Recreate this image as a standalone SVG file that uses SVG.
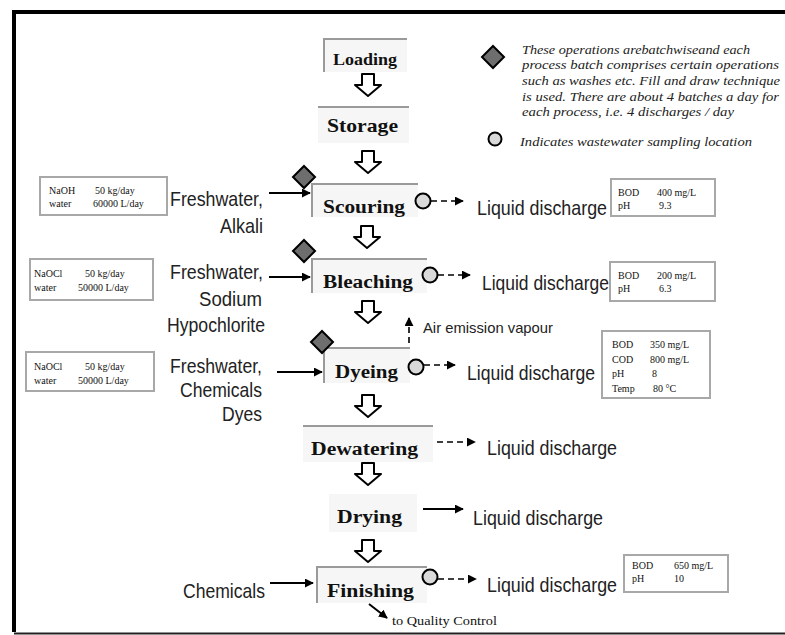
<svg xmlns="http://www.w3.org/2000/svg" xmlns:xlink="http://www.w3.org/1999/xlink" width="785" height="635" viewBox="0 0 785 635">
<style>
.proc{fill:#f6f6f6}
.edge{stroke:#9a9a9a;stroke-width:2;fill:none}
.pt{font-family:"Liberation Serif",serif;font-weight:bold;fill:#111}
.lab{font-family:"Liberation Sans",Arial,sans-serif;font-size:18px;fill:#222}
.sm{font-family:"Liberation Serif",serif;font-size:10px;fill:#111}
.leg{font-family:"Liberation Serif",serif;font-style:italic;font-size:13px;fill:#222}
.ibox{fill:#fff;stroke:#a8a8a8;stroke-width:2}
.dia{fill:#6e6e6e;stroke:#000;stroke-width:2}
.smp{fill:#d9d9d9;stroke:#000;stroke-width:2}
.solid{stroke:#000;stroke-width:2;fill:none}
.dash{stroke:#000;stroke-width:1.6;fill:none;stroke-dasharray:6,4}
.harr{fill:#fff;stroke:#000;stroke-width:2;stroke-linejoin:round}
</style>
<defs>
<marker id="ah" viewBox="0 0 10 10" refX="9" refY="5" markerWidth="9" markerHeight="9" markerUnits="userSpaceOnUse" orient="auto">
<path d="M0,0 L10,5 L0,10 z" fill="#000"/>
</marker>
<path id="darr" class="harr" d="M-6,0 H6 V11 H13 L0,22 L-13,11 H-6 Z"/>
<path id="diam" class="dia" d="M0,-11 L11,0 L0,11 L-11,0 Z"/>
</defs>

<!-- frame -->
<path d="M14,632 V12 H785" fill="none" stroke="#000" stroke-width="4"/>
<line x1="14" y1="633.5" x2="785" y2="633.5" stroke="#222" stroke-width="2"/>

<!-- legend -->
<g id="legend">
<use href="#diam" x="493" y="57"/>
<text class="leg" x="522" y="54" textLength="228" lengthAdjust="spacingAndGlyphs">These operations arebatchwiseand each</text>
<text class="leg" x="522" y="69" textLength="257" lengthAdjust="spacingAndGlyphs">process batch comprises certain operations</text>
<text class="leg" x="522" y="85" textLength="258" lengthAdjust="spacingAndGlyphs">such as washes etc. Fill and draw technique</text>
<text class="leg" x="522" y="101" textLength="257" lengthAdjust="spacingAndGlyphs">is used. There are about 4 batches a day for</text>
<text class="leg" x="522" y="116" textLength="212" lengthAdjust="spacingAndGlyphs">each process, i.e. 4 discharges / day</text>
<circle class="smp" cx="495" cy="139" r="6.5"/>
<text class="leg" x="520" y="146" textLength="232" lengthAdjust="spacingAndGlyphs">Indicates wastewater sampling location</text>
</g>

<!-- process nodes -->
<g id="loading">
<rect class="proc" x="324" y="39" width="83" height="33"/>
<path class="edge" d="M324,72 V39 H407"/>
<text class="pt" x="333" y="65" font-size="16" textLength="64" lengthAdjust="spacingAndGlyphs">Loading</text>
</g>
<g id="storage">
<rect class="proc" x="318" y="107" width="91" height="36"/>
<path class="edge" d="M318,107 H409"/>
<text class="pt" x="327" y="132" font-size="19" textLength="71" lengthAdjust="spacingAndGlyphs">Storage</text>
</g>
<g id="scouring">
<rect class="proc" x="312" y="184" width="106" height="33"/>
<path class="edge" d="M312,217 V184 H418"/>
<text class="pt" x="323" y="213" font-size="18" textLength="82" lengthAdjust="spacingAndGlyphs">Scouring</text>
<use href="#diam" x="304" y="177"/>
</g>
<g id="bleaching">
<rect class="proc" x="312" y="259" width="115" height="34"/>
<path class="edge" d="M312,293 V259 H427"/>
<text class="pt" x="323" y="288" font-size="18" textLength="90" lengthAdjust="spacingAndGlyphs">Bleaching</text>
<use href="#diam" x="304" y="251"/>
</g>
<g id="dyeing">
<rect class="proc" x="324" y="348" width="86" height="35"/>
<path class="edge" d="M324,383 V348 H410"/>
<text class="pt" x="335" y="378" font-size="18" textLength="63" lengthAdjust="spacingAndGlyphs">Dyeing</text>
<use href="#diam" x="322" y="342"/>
</g>
<g id="dewatering">
<rect class="proc" x="303" y="426" width="130" height="36"/>
<path class="edge" d="M303,426 H433"/>
<text class="pt" x="311" y="455" font-size="18" textLength="107" lengthAdjust="spacingAndGlyphs">Dewatering</text>
</g>
<g id="drying">
<rect class="proc" x="329" y="494" width="88" height="38"/>
<text class="pt" x="337" y="523" font-size="18" textLength="65" lengthAdjust="spacingAndGlyphs">Drying</text>
</g>
<g id="finishing">
<rect class="proc" x="317" y="567" width="110" height="36"/>
<path class="edge" d="M317,603 V567 H427"/>
<text class="pt" x="327" y="597" font-size="18" textLength="87" lengthAdjust="spacingAndGlyphs">Finishing</text>
</g>

<!-- inputs -->
<g id="input-scouring">
<rect class="ibox" x="40" y="177" width="127" height="38"/>
<text class="sm" x="49" y="194">NaOH</text><text class="sm" x="95" y="194">50 kg/day</text>
<text class="sm" x="49" y="207">water</text><text class="sm" x="93" y="207">60000 L/day</text>
<text class="lab" transform="translate(263,206) scale(1,1.15)" text-anchor="end" textLength="93" lengthAdjust="spacingAndGlyphs">Freshwater,</text>
<text class="lab" transform="translate(263,233) scale(1,1.15)" text-anchor="end" textLength="43" lengthAdjust="spacingAndGlyphs">Alkali</text>
</g>
<g id="input-bleaching">
<rect class="ibox" x="30" y="259" width="123" height="41"/>
<text class="sm" x="34" y="277">NaOCl</text><text class="sm" x="85" y="277">50 kg/day</text>
<text class="sm" x="34" y="291">water</text><text class="sm" x="78" y="291">50000 L/day</text>
<text class="lab" transform="translate(263,279) scale(1,1.15)" text-anchor="end" textLength="93" lengthAdjust="spacingAndGlyphs">Freshwater,</text>
<text class="lab" transform="translate(262,306) scale(1,1.15)" text-anchor="end" textLength="63" lengthAdjust="spacingAndGlyphs">Sodium</text>
<text class="lab" transform="translate(265,332) scale(1,1.15)" text-anchor="end" textLength="98" lengthAdjust="spacingAndGlyphs">Hypochlorite</text>
</g>
<g id="input-dyeing">
<rect class="ibox" x="26" y="352" width="128" height="39"/>
<text class="sm" x="34" y="370">NaOCl</text><text class="sm" x="85" y="370">50 kg/day</text>
<text class="sm" x="34" y="384">water</text><text class="sm" x="78" y="384">50000 L/day</text>
<text class="lab" transform="translate(262,373) scale(1,1.15)" text-anchor="end" textLength="92" lengthAdjust="spacingAndGlyphs">Freshwater,</text>
<text class="lab" transform="translate(262,397) scale(1,1.15)" text-anchor="end" textLength="82" lengthAdjust="spacingAndGlyphs">Chemicals</text>
<text class="lab" transform="translate(262,421) scale(1,1.15)" text-anchor="end" textLength="40" lengthAdjust="spacingAndGlyphs">Dyes</text>
</g>
<g id="input-finishing">
<text class="lab" transform="translate(265,598) scale(1,1.15)" text-anchor="end" textLength="82" lengthAdjust="spacingAndGlyphs">Chemicals</text>
</g>

<!-- outputs -->
<g id="out-scouring">
<circle class="smp" cx="423" cy="201" r="7.5"/>
<text class="lab" transform="translate(477,215) scale(1,1.15)" textLength="130" lengthAdjust="spacingAndGlyphs">Liquid discharge</text>
<rect class="ibox" x="611" y="179" width="104" height="37"/>
<text class="sm" x="618" y="196">BOD</text><text class="sm" x="657" y="196">400 mg/L</text>
<text class="sm" x="618" y="209">pH</text><text class="sm" x="659" y="209">9.3</text>
</g>
<g id="out-bleaching">
<circle class="smp" cx="430" cy="275" r="7.5"/>
<text class="lab" transform="translate(482,290) scale(1,1.15)" textLength="127" lengthAdjust="spacingAndGlyphs">Liquid discharge</text>
<rect class="ibox" x="610" y="262" width="105" height="39"/>
<text class="sm" x="618" y="279">BOD</text><text class="sm" x="657" y="279">200 mg/L</text>
<text class="sm" x="618" y="292">pH</text><text class="sm" x="659" y="292">6.3</text>
</g>
<g id="out-dyeing">
<circle class="smp" cx="416" cy="367" r="7.5"/>
<text class="lab" transform="translate(467,380) scale(1,1.15)" textLength="128" lengthAdjust="spacingAndGlyphs">Liquid discharge</text>
<rect class="ibox" x="602" y="331" width="108" height="67"/>
<text class="sm" x="612" y="348">BOD</text><text class="sm" x="650" y="348">350 mg/L</text>
<text class="sm" x="612" y="363">COD</text><text class="sm" x="650" y="363">800 mg/L</text>
<text class="sm" x="612" y="377">pH</text><text class="sm" x="652" y="377">8</text>
<text class="sm" x="612" y="392">Temp</text><text class="sm" x="653" y="392">80 °C</text>
<text class="lab" x="423" y="333" style="font-size:15px" textLength="130" lengthAdjust="spacingAndGlyphs">Air emission vapour</text>
</g>
<g id="out-dewatering">
<text class="lab" transform="translate(487,455) scale(1,1.15)" textLength="130" lengthAdjust="spacingAndGlyphs">Liquid discharge</text>
</g>
<g id="out-drying">
<text class="lab" transform="translate(473,525) scale(1,1.15)" textLength="130" lengthAdjust="spacingAndGlyphs">Liquid discharge</text>
</g>
<g id="out-finishing">
<circle class="smp" cx="430" cy="577" r="7.5"/>
<text class="lab" transform="translate(487,592) scale(1,1.15)" textLength="130" lengthAdjust="spacingAndGlyphs">Liquid discharge</text>
<rect class="ibox" x="624" y="555" width="104" height="37"/>
<text class="sm" x="632" y="569">BOD</text><text class="sm" x="674" y="569">650 mg/L</text>
<text class="sm" x="632" y="582">pH</text><text class="sm" x="674" y="582">10</text>
<text class="sm" x="392" y="625" style="font-size:12.5px" textLength="105" lengthAdjust="spacingAndGlyphs">to Quality Control</text>
</g>

<!-- connectors -->
<g id="connectors">
<use href="#darr" x="368" y="74"/>
<use href="#darr" x="368" y="151"/>
<use href="#darr" x="367" y="226"/>
<use href="#darr" x="368" y="301"/>
<use href="#darr" x="368" y="395"/>
<use href="#darr" x="368" y="463"/>
<use href="#darr" x="368" y="540"/>
<line class="solid" x1="269" y1="193" x2="310" y2="193" marker-end="url(#ah)"/>
<line class="solid" x1="269" y1="277" x2="310" y2="277" marker-end="url(#ah)"/>
<line class="solid" x1="277" y1="372" x2="322" y2="372" marker-end="url(#ah)"/>
<line class="solid" x1="270" y1="583" x2="313" y2="583" marker-end="url(#ah)"/>
<line class="dash" x1="431" y1="201" x2="463" y2="201" marker-end="url(#ah)"/>
<line class="dash" x1="438" y1="275" x2="470" y2="275" marker-end="url(#ah)"/>
<line class="dash" x1="424" y1="365" x2="455" y2="365" marker-end="url(#ah)"/>
<line class="dash" x1="437" y1="442" x2="475" y2="442" marker-end="url(#ah)"/>
<line class="solid" x1="423" y1="509" x2="463" y2="509" marker-end="url(#ah)"/>
<line class="dash" x1="438" y1="579" x2="476" y2="579" marker-end="url(#ah)"/>
<line class="dash" x1="409" y1="343" x2="409" y2="318" marker-end="url(#ah)"/>
<line class="solid" x1="369" y1="604" x2="387" y2="618" marker-end="url(#ah)"/>
</g>
</svg>
